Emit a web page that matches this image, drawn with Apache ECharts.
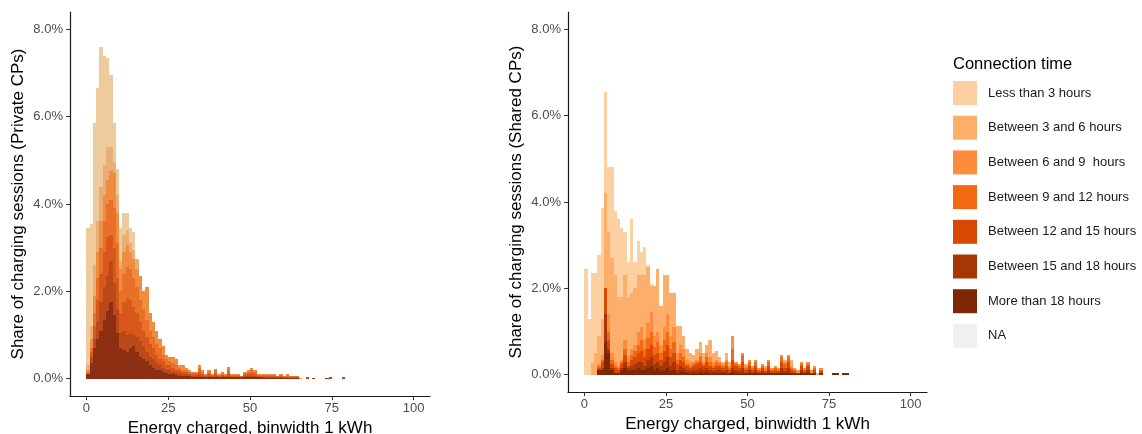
<!DOCTYPE html>
<html><head><meta charset="utf-8">
<script src="https://cdn.jsdelivr.net/npm/echarts@6/dist/echarts.min.js"></script>
<style>html,body{margin:0;padding:0;background:#fff}#c{width:1142px;height:434px}</style>
</head><body><div id="c"></div>
<script>
// ---- Data (share of sessions in %, one value per 1 kWh bin starting at 0 kWh) ----
const groupNames = ['Less than 3 hours','Between 3 and 6 hours','Between 6 and 9  hours','Between 9 and 12 hours','Between 12 and 15 hours','Between 15 and 18 hours','More than 18 hours','NA'];
const xTickValues = [0, 25, 50, 75, 100];
const yTickValues = [0, 2, 4, 6, 8];

// Private CPs
const privLess3 = [3.45,3.55,5.85,6.65,7.6,7.4,7.35,6.95,5.85,4.8,3.45,3.8,3.8,3.45,3.35,2.2,1.6,1.3,1.0,0.7,0.5,0.4,0.3,0.2,0.15,0.1,0.1,0.08,0.06,0.05,0.05,0.04,0.03,0.03,0.03,0.02,0.02,0.02,0.02,0.02,0.02,0.02,0.02,0.02,0.02,0.02,0.02,0.02,0.02,0.02,0.02,0.02,0.02,0.02,0.02,0.02,0.02,0.02,0.02,0.02,0.02,0.02,0.02,0.02,0.02,0,0,0.02,0,0,0,0,0,0,0,0,0,0,0,0,0];
const priv3to6 = [0.3,1.2,2.6,3.6,4.4,4.9,5.3,5.3,4.95,4.2,2.7,3.3,3.4,3.1,2.95,2.75,2.3,1.9,1.7,1.35,1.25,1.0,0.85,0.6,0.45,0.4,0.4,0.35,0.25,0.25,0.2,0.15,0.12,0.1,0.2,0.12,0.08,0.1,0.06,0.12,0.06,0.08,0.06,0.15,0.06,0.06,0.06,0.04,0.08,0.1,0.12,0.1,0.06,0.06,0.05,0.05,0.05,0.05,0.04,0.05,0.03,0.05,0.03,0.03,0.03,0,0,0,0,0,0,0,0,0,0,0,0,0,0,0,0];
const priv6to9 = [0.2,0.9,1.9,2.9,3.6,4.2,4.55,4.75,4.7,3.8,2.5,2.9,3.05,2.9,2.75,2.5,2.35,2.0,2.1,1.5,1.3,1.1,0.9,0.75,0.55,0.5,0.5,0.45,0.3,0.3,0.25,0.2,0.15,0.15,0.3,0.2,0.1,0.2,0.1,0.22,0.1,0.15,0.1,0.27,0.1,0.1,0.1,0.05,0.15,0.2,0.25,0.2,0.1,0.1,0.1,0.1,0.1,0.1,0.05,0.1,0.05,0.1,0.05,0.05,0.05,0.02,0,0,0,0,0,0,0,0,0,0,0,0,0,0,0];
const priv9to12 = [0.15,0.7,1.5,2.3,3.0,3.6,4.0,4.1,3.9,3.1,2.0,2.4,2.55,2.5,2.3,2.1,1.8,1.6,1.35,1.1,0.95,0.8,0.7,0.55,0.45,0.4,0.35,0.3,0.25,0.2,0.2,0.15,0.12,0.12,0.25,0.15,0.08,0.15,0.08,0.2,0.08,0.12,0.08,0.22,0.08,0.08,0.08,0.05,0.12,0.15,0.2,0.15,0.08,0.08,0.08,0.08,0.08,0.08,0.05,0.08,0.05,0.08,0.05,0.05,0.05,0,0,0,0,0,0,0,0,0,0,0,0,0,0,0,0];
const priv12to15 = [0.1,0.6,1.2,1.8,2.4,2.9,3.25,3.3,3.0,2.3,1.5,1.75,1.85,1.8,1.65,1.5,1.3,1.1,0.95,0.8,0.7,0.55,0.45,0.4,0.3,0.3,0.25,0.2,0.2,0.15,0.15,0.12,0.1,0.1,0.15,0.1,0.06,0.1,0.06,0.12,0.06,0.08,0.06,0.12,0.06,0.06,0.06,0.04,0.08,0.1,0.12,0.1,0.06,0.06,0.05,0.05,0.05,0.05,0.04,0.05,0.03,0.04,0.03,0.03,0.03,0,0,0,0,0,0,0,0,0,0,0,0,0,0,0,0];
const priv15to18 = [0.1,0.5,0.9,1.3,1.75,2.1,2.35,2.7,2.2,1.6,1.05,1.1,1.0,1.05,1.0,0.95,0.85,0.75,0.6,0.5,0.45,0.35,0.3,0.25,0.2,0.2,0.15,0.15,0.12,0.1,0.1,0.08,0.06,0.06,0.08,0.06,0.04,0.06,0.04,0.06,0.04,0.05,0.04,0.06,0.04,0.04,0.04,0.03,0.05,0.06,0.06,0.05,0.04,0.04,0.03,0.03,0.03,0.03,0.03,0.03,0.02,0.03,0.02,0.02,0.02,0,0,0.03,0,0,0,0,0,0,0.03,0,0,0,0.03,0,0];
const privMore18 = [0.1,0.35,0.7,0.9,1.1,1.35,1.55,1.75,1.45,1.05,0.7,0.65,0.6,0.7,0.75,0.6,0.5,0.45,0.4,0.3,0.25,0.2,0.2,0.15,0.12,0.1,0.1,0.08,0.06,0.06,0.05,0.05,0.04,0.04,0.04,0.04,0.03,0.03,0.03,0.03,0.03,0.03,0.03,0.03,0.03,0.03,0.03,0.03,0.03,0.03,0.03,0.03,0.03,0.03,0.02,0.02,0.02,0.02,0.02,0.02,0.02,0.02,0.02,0.02,0.02,0,0,0,0,0.02,0,0,0,0.02,0,0,0,0,0,0,0];

// Shared CPs
const sharedLess3 = [2.44,1.3,2.36,2.36,2.78,3.87,6.55,4.8,4.8,3.8,3.6,3.4,3.3,2.6,3.6,2.6,3.1,2.85,2.95,2.55,2.1,1.6,1.4,1.2,1.1,1.0,0.9,0.8,0.6,0.5,0.5,0.4,0.35,0.3,0.3,0.3,0.4,0.3,0.3,0.25,0.25,0.2,0.2,0.2,0.2,0.25,0.15,0.15,0.2,0.15,0.15,0.15,0.15,0.1,0.1,0.1,0.1,0.1,0.1,0.1,0.15,0.1,0.15,0.05,0.05,0.05,0.05,0.05,0,0,0,0,0,0,0,0,0,0,0,0,0];
const shared3to6 = [0,0,0.3,0.5,0.9,1.3,4.2,3.3,2.7,2.3,1.8,1.8,2.3,1.8,1.9,2.0,2.3,2.3,2.3,2.5,2.05,2.05,2.45,1.6,2.3,2.3,1.9,1.9,1.13,1.13,0.9,0.6,0.5,0.45,0.6,0.75,0.5,0.68,0.8,0.5,0.55,0.4,0.3,0.5,0.3,0.5,0.3,0.25,0.4,0.25,0.3,0.2,0.3,0.15,0.25,0.2,0.2,0.15,0.2,0.15,0.3,0.35,0.3,0.35,0.15,0.1,0.1,0.1,0.15,0.05,0.2,0.05,0.05,0,0,0,0,0,0,0,0];
const shared6to9 = [0,0,0,0,0.25,0.45,1.9,1.4,0.5,0.3,0.2,0.35,0.8,0.4,0.6,0.7,1.0,1.1,0.8,1.2,1.45,0.9,1.0,0.7,1.1,1.4,0.9,1.1,0.5,0.7,0.6,0.35,0.3,0.3,0.35,0.5,0.3,0.5,0.4,0.3,0.35,0.3,0.25,0.35,0.2,0.9,0.3,0.25,0.5,0.2,0.35,0.2,0.35,0.15,0.25,0.15,0.35,0.15,0.2,0.15,0.45,0.3,0.45,0.2,0.15,0.1,0.3,0.15,0.3,0.1,0.2,0,0.15,0,0,0,0,0,0,0,0];
const shared9to12 = [0,0,0,0,0.2,0.35,1.8,1.0,0.35,0.2,0.15,0.3,0.6,0.3,0.45,0.55,0.7,0.8,0.6,0.85,1.0,0.65,0.75,0.5,0.8,1.0,0.6,0.75,0.35,0.5,0.4,0.25,0.2,0.25,0.3,0.4,0.25,0.4,0.3,0.2,0.3,0.25,0.2,0.3,0.15,0.6,0.25,0.2,0.45,0.15,0.3,0.15,0.3,0.1,0.2,0.1,0.3,0.1,0.15,0.1,0.4,0.25,0.4,0.15,0.1,0.05,0.25,0.1,0.25,0.05,0.15,0,0.1,0,0,0,0,0,0,0,0];
const shared12to15 = [0,0,0,0,0.15,0.3,2.0,0.8,0.25,0.15,0.1,0.25,0.45,0.2,0.35,0.4,0.5,0.55,0.4,0.6,0.7,0.45,0.5,0.35,0.55,0.7,0.4,0.5,0.25,0.35,0.3,0.2,0.15,0.2,0.25,0.3,0.2,0.3,0.2,0.15,0.2,0.2,0.15,0.2,0.1,0.35,0.2,0.15,0.3,0.1,0.2,0.1,0.2,0.08,0.15,0.08,0.2,0.08,0.1,0.08,0.3,0.15,0.3,0.1,0.08,0.05,0.2,0.08,0.2,0.05,0.1,0,0.08,0,0,0,0.05,0.05,0,0.05,0.05];
const shared15to18 = [0,0,0,0,0.1,0.15,1.4,0.6,0.15,0.05,0.05,0.15,0.3,0.15,0.2,0.25,0.3,0.3,0.2,0.35,0.4,0.25,0.3,0.2,0.3,0.4,0.2,0.3,0.1,0.2,0.15,0.1,0.08,0.1,0.12,0.15,0.1,0.15,0.1,0.08,0.1,0.1,0.08,0.1,0.05,0.15,0.1,0.08,0.15,0.05,0.1,0.05,0.1,0.05,0.08,0.05,0.1,0.05,0.05,0.05,0.15,0.08,0.15,0.05,0.05,0.03,0.1,0.05,0.1,0.03,0.05,0,0.05,0,0,0,0.05,0.05,0,0.05,0.05];
const sharedMore18 = [0,0,0,0,0.1,0.1,0.75,0.5,0.1,0.03,0.03,0.1,0.15,0.08,0.1,0.12,0.15,0.12,0.1,0.15,0.2,0.1,0.15,0.08,0.12,0.15,0.08,0.12,0.05,0.08,0.06,0.05,0.04,0.05,0.05,0.06,0.05,0.06,0.05,0.04,0.05,0.04,0.04,0.05,0.03,0.06,0.04,0.04,0.05,0.03,0.04,0.03,0.04,0.03,0.03,0.03,0.04,0.03,0.03,0.03,0.05,0.04,0.05,0.03,0.03,0.02,0.04,0.03,0.04,0.02,0.03,0,0.03,0,0,0,0.04,0.04,0,0.04,0.04];

const privateSeries = [privLess3, priv3to6, priv6to9, priv9to12, priv12to15, priv15to18, privMore18];
const sharedSeries = [sharedLess3, shared3to6, shared6to9, shared9to12, shared12to15, shared15to18, sharedMore18];

// ---- Styles ----
const legendColors = ['#FDD0A2','#FDAE6B','#FD8D3C','#F16913','#D94801','#A63603','#7F2704','#F0F0F0'];
const privateColors = ['#EECB9D','#E9AE78','#EE8C40','#E8712A','#DA571C','#B9481B','#8C2E12'];
const sharedColors = ['#FDD0A2','#FDAE6B','#FD8D3C','#F16913','#D94801','#A63603','#7F2704'];
const FONT = '"Liberation Sans", Arial, sans-serif';

const chart = echarts.init(document.getElementById('c'), null, {renderer: 'canvas'});

function histSeries(name, values, color, idx) {
  return {
    type: 'custom', name: name, xAxisIndex: idx, yAxisIndex: idx,
    itemStyle: {color: color}, clip: true, silent: true,
    data: values.map((v, i) => [i, v]),
    renderItem: function (params, api) {
      const x = api.value(0), y = api.value(1);
      if (!y) return null;
      const p0 = api.coord([x, y]);
      const p1 = api.coord([x + 1, 0]);
      const x0 = Math.round(p0[0]), x1 = Math.round(p1[0]);
      const y0 = Math.round(p0[1]), y1 = Math.round(p1[1]);
      return {type: 'rect', shape: {x: x0, y: Math.min(y0, y1 - 1), width: x1 - x0, height: Math.max(1, y1 - y0)},
        style: {fill: color}};
    }
  };
}

const series = [];
privateSeries.forEach((vals, g) => series.push(histSeries(groupNames[g], vals, privateColors[g], 0)));
sharedSeries.forEach((vals, g) => series.push(histSeries(groupNames[g], vals, sharedColors[g], 1)));
series.push({type: 'custom', name: 'NA', xAxisIndex: 1, yAxisIndex: 1, itemStyle: {color: legendColors[7]}, data: [], renderItem: () => null});

function xAxisCfg(idx) {
  return {
    gridIndex: idx, type: 'value', min: -5, max: 105,
    name: 'Energy charged, binwidth 1 kWh', nameLocation: 'middle', nameGap: 23,
    nameTextStyle: {fontSize: 17, color: '#000', fontFamily: FONT},
    axisLine: {show: true, onZero: false, lineStyle: {color: '#1a1a1a', width: 1.2}},
    axisTick: {show: true, length: 4, customValues: xTickValues, lineStyle: {color: '#333', width: 1}},
    axisLabel: {customValues: xTickValues, margin: 6, fontSize: 13, color: '#4D4D4D', fontFamily: FONT},
    splitLine: {show: false}
  };
}
function yAxisCfg(idx, name) {
  return {
    gridIndex: idx, type: 'value', min: -0.4, max: 8.4,
    name: name, nameLocation: 'middle', nameGap: 43,
    nameTextStyle: {fontSize: 17, color: '#000', fontFamily: FONT},
    axisLine: {show: true, onZero: false, lineStyle: {color: '#1a1a1a', width: 1.2}},
    axisTick: {show: true, length: 4, customValues: yTickValues, lineStyle: {color: '#333', width: 1}},
    axisLabel: {customValues: yTickValues, margin: 7, fontSize: 13, color: '#4D4D4D', fontFamily: FONT,
      formatter: v => v.toFixed(1) + '%'},
    splitLine: {show: false}
  };
}

chart.setOption({
  animation: false,
  backgroundColor: '#fff',
  title: {text: 'Connection time', left: 948, top: 51, textStyle: {fontSize: 16.5, fontWeight: 'normal', color: '#000', fontFamily: FONT}},
  legend: {
    orient: 'vertical', left: 948, top: 76, itemWidth: 24, itemHeight: 24, itemGap: 10.7,
    icon: 'rect', selectedMode: false,
    textStyle: {fontSize: 13, color: '#1a1a1a', fontFamily: FONT, padding: [0, 0, 0, 6]},
    data: groupNames.map((n, i) => ({name: n, itemStyle: {color: legendColors[i]}}))
  },
  grid: [
    {left: 70, top: 12, width: 360, height: 384, outerBoundsMode: 'none', containLabel: false},
    {left: 568, top: 12, width: 359, height: 380, outerBoundsMode: 'none', containLabel: false}
  ],
  xAxis: [xAxisCfg(0), xAxisCfg(1)],
  yAxis: [yAxisCfg(0, 'Share of charging sessions (Private CPs)'), yAxisCfg(1, 'Share of charging sessions (Shared CPs)')],
  series: series
});
</script>
</body></html>
